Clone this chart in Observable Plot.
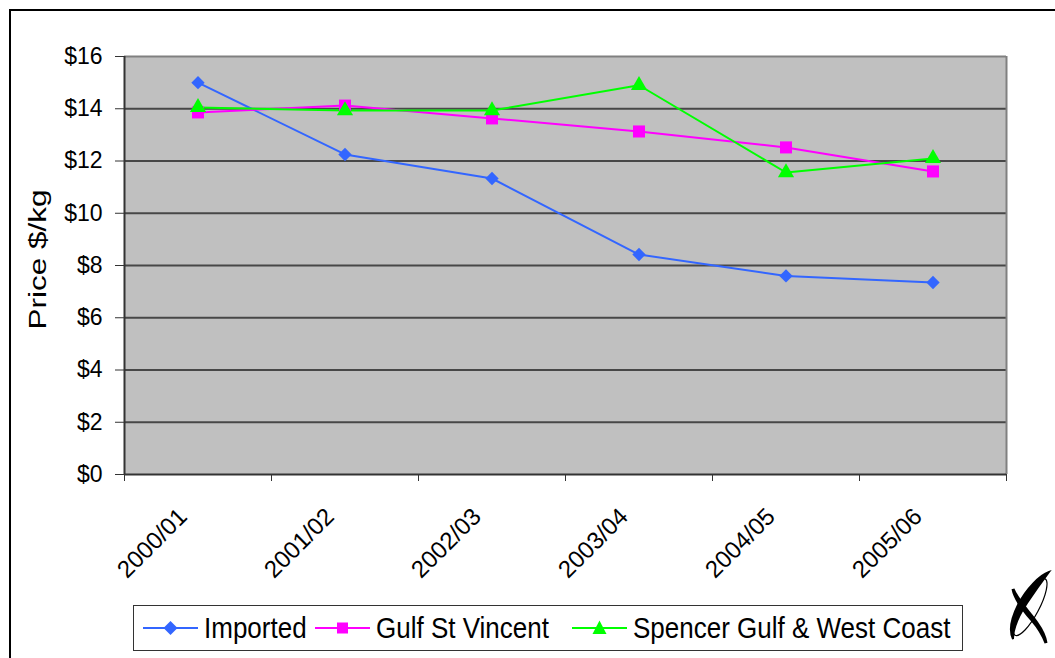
<!DOCTYPE html>
<html>
<head>
<meta charset="utf-8">
<script src="https://cdn.jsdelivr.net/npm/d3@7"></script>
<script src="https://cdn.jsdelivr.net/npm/@observablehq/plot@0.6"></script>
<style>
  html, body { margin: 0; padding: 0; background: #fff; overflow: hidden; }
  #wrap { position: relative; width: 1055px; height: 658px; overflow: hidden; font-family: Arial, "Liberation Sans", sans-serif; }
  #border { position: absolute; left: 9px; top: 9px; width: 1100px; height: 700px; border: 2px solid #000; box-sizing: border-box; }
  #chart { position: absolute; left: 0; top: 0; }
  #legend { position: absolute; left: 133px; top: 605px; width: 830px; height: 46px; border: 1px solid #333; box-sizing: border-box; background: #fff; }
  .item { position: absolute; top: 0; height: 44px; display: flex; align-items: center; }
  .item span { font-size: 26px; color: #000; margin-left: 6px; line-height: 1; display: inline-block; transform: scaleY(1.1); }
  #logo { position: absolute; left: 1000px; top: 565px; }
</style>
</head>
<body>
<div id="wrap">
  <div id="border"></div>
  <div id="chart"></div>
  <div id="legend"></div>
  <svg id="logo" width="55" height="85" viewBox="0 0 55 85">
    <path d="M49,7 C40,10 26,24 18,40 C11,54 9,66 13,74 C13,64 19,50 27,38 C35,26 43,15 49,7 Z" fill="#000" stroke="#000" stroke-width="2"/>
    <path d="M13,24 C18,36 30,48 37,58 C42,65 45,71 46,78 C43,70 38,62 32,55 C24,46 15,35 13,24 Z" fill="#000" stroke="#000" stroke-width="3"/>
    <ellipse cx="30" cy="42" rx="9" ry="32" transform="rotate(28 30 42)" fill="none" stroke="#000" stroke-width="1.2"/>
  </svg>
</div>
<script>
// ---- data ----
const categories = ["2000/01", "2001/02", "2002/03", "2003/04", "2004/05", "2005/06"];
const seriesNames = ["Imported", "Gulf St Vincent", "Spencer Gulf & West Coast"];
const imported = [15.0, 12.25, 11.33, 8.42, 7.6, 7.35];
const gulfStVincent = [13.86, 14.12, 13.63, 13.13, 12.52, 11.6];
const spencerGulf = [14.05, 13.93, 13.93, 14.9, 11.56, 12.1];
const yTicks = [0, 2, 4, 6, 8, 10, 12, 14, 16];

// ---- styles ----
const colors = ["#3366FF", "#FF00FF", "#00FF00"];
const symbols = ["diamond2", "square", "triangle"];
const radii = [6.0, 6.8, 6.0];
const valuesList = [imported, gulfStVincent, spencerGulf];

const series = seriesNames.map((name, k) => ({
  name, color: colors[k], symbol: symbols[k], r: radii[k],
  rows: valuesList[k].map((v, i) => ({ series: name, cat: categories[i], pos: i + 0.5, value: v }))
}));

const marks = [
  Plot.frame({ fill: "#C0C0C0", stroke: null }),
  Plot.ruleY(yTicks.filter(t => t > 0 && t < 16), { stroke: "#474747", strokeWidth: 2 }),
  Plot.ruleY([16], { stroke: "#808080", strokeWidth: 2 }),
  Plot.ruleX([categories.length], { stroke: "#808080", strokeWidth: 2 }),
  Plot.ruleX([0], { stroke: "#333", strokeWidth: 2 }),
  Plot.ruleY([0], { stroke: "#333", strokeWidth: 2 }),
  Plot.axisY({ ticks: yTicks, tickFormat: d => "$" + d, tickSize: 9, tickPadding: 13, fontSize: 23, label: null, color: "#000", stroke: "#333" }),
  Plot.axisX({ ticks: d3.range(0, categories.length + 1), tickSize: 7, tickFormat: () => "", label: null, stroke: "#333" }),
  Plot.axisX({ ticks: categories.map((c, i) => i + 0.5), tickSize: 0, tickPadding: 38, dx: -15, tickRotate: -45,
               tickFormat: v => categories[Math.round(v - 0.5)], fontSize: 24, label: null, color: "#000" }),
  Plot.text(["Price $/kg"], { frameAnchor: "left", textAnchor: "middle", rotate: -90, dx: -86, dy: -6, fontSize: 23, fill: "#000", className: "ylabel" })
];
for (const s of series) {
  marks.push(Plot.line(s.rows, { x: "pos", y: "value", stroke: s.color, strokeWidth: 2 }));
}
for (const s of series) {
  marks.push(Plot.dot(s.rows, { x: "pos", y: "value", fill: s.color, stroke: null, symbol: s.symbol, r: s.r }));
}

const chart = Plot.plot({
  width: 1055,
  height: 600,
  marginLeft: 124,
  marginRight: 49,
  marginTop: 56,
  marginBottom: 126,
  style: { background: "transparent", fontFamily: "Arial, 'Liberation Sans', sans-serif", fontSize: "23px", color: "#000" },
  x: { type: "linear", domain: [0, categories.length], axis: null },
  y: { type: "linear", domain: [0, 16], axis: null },
  marks
});
document.getElementById("chart").appendChild(chart);
// stretch the axis title along its length, as in the reference
chart.querySelectorAll(".ylabel text").forEach(t => {
  t.setAttribute("textLength", "140");
  t.setAttribute("lengthAdjust", "spacingAndGlyphs");
});

// ---- legend ----
const legend = document.getElementById("legend");
const lefts = [9, 181, 438];
series.forEach((s, k) => {
  const item = document.createElement("div");
  item.className = "item";
  item.style.left = lefts[k] + "px";
  let marker;
  if (s.symbol === "diamond2") marker = `<path d="M27.5,${22-7} L34.5,22 L27.5,${22+7} L20.5,22 Z" fill="${s.color}"/>`;
  else if (s.symbol === "square") marker = `<rect x="22" y="16.5" width="11" height="11" fill="${s.color}"/>`;
  else marker = `<path d="M27.5,14.5 L34.5,28 L20.5,28 Z" fill="${s.color}"/>`;
  item.innerHTML = `<svg width="55" height="44"><line x1="0" x2="55" y1="22" y2="22" stroke="${s.color}" stroke-width="2"/>${marker}</svg><span>${s.name.replace("&", "&amp;")}</span>`;
  legend.appendChild(item);
});
</script>
</body>
</html>
